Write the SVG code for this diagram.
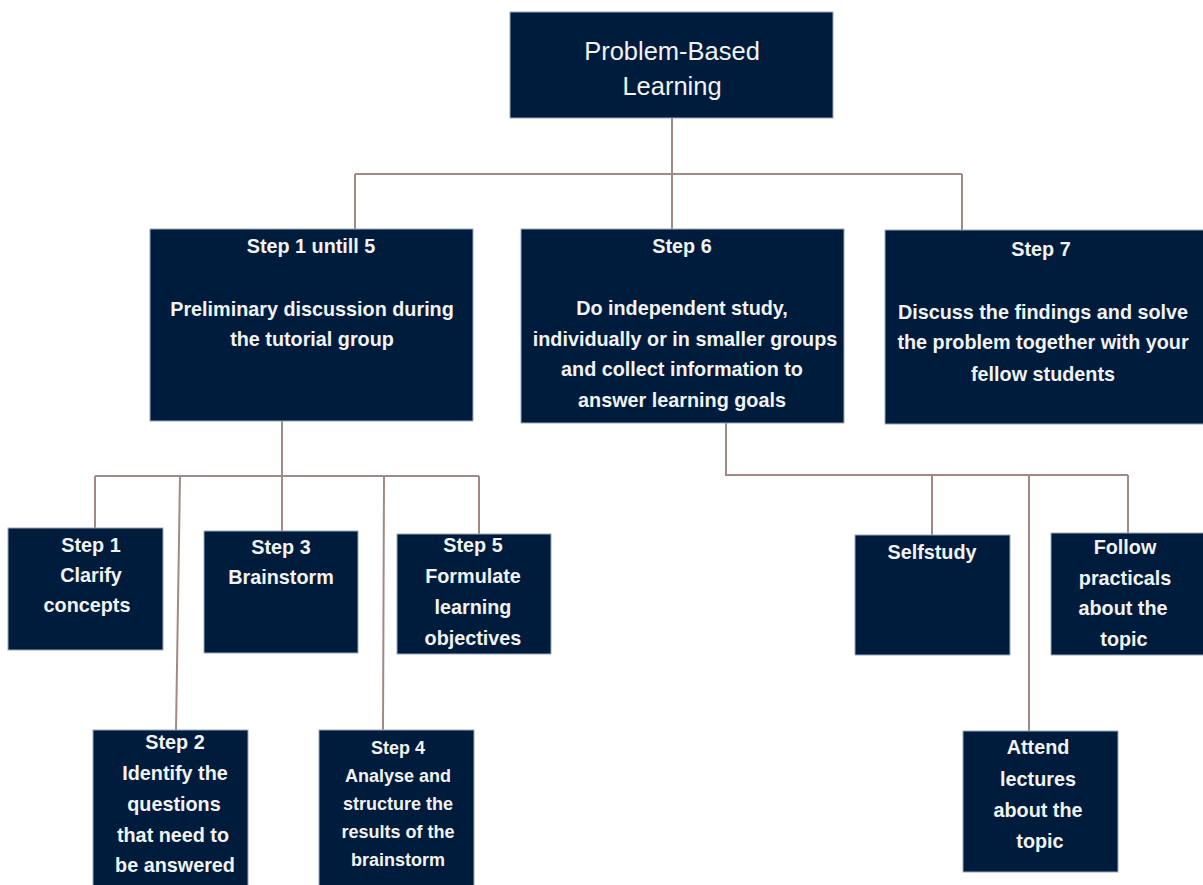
<svg xmlns="http://www.w3.org/2000/svg" width="1203" height="885" viewBox="0 0 1203 885">
<style>
.box{fill:#001c3d;stroke:#9aa8ba;stroke-width:1}
.t{fill:#f2f2f2;font-family:"Liberation Sans",Arial,sans-serif;font-weight:bold;font-size:19.8px;text-anchor:middle}
.s{font-size:18px}
.title{fill:#f2f2f2;font-family:"Liberation Sans",Arial,sans-serif;font-size:25.5px;text-anchor:middle}
.c{fill:none;stroke:#a08a86;stroke-width:2}
</style>
<rect width="1203" height="885" fill="#ffffff"/>
<g id="connectors">
<path class="c" d="M672 118V230M355 174H962M355 174V229M962 174V230"/>
<path class="c" d="M282 421V476M95 476H479M95 476V528M180 476L176 730M282 476V531M384 476L383 730M479 476V534"/>
<path class="c" d="M726 423V475H1128M932 475V535M1029 475V731M1128 475V533"/>
</g>
<g id="n-pbl"><rect class="box" x="510" y="12" width="323" height="106"/>
<text class="title" x="672" y="60">Problem-Based</text><text class="title" x="672" y="95">Learning</text></g>
<g id="n-step15"><rect class="box" x="150" y="229" width="323" height="192"/>
<text class="t" x="311" y="253">Step 1 untill 5</text>
<text class="t" x="312" y="316">Preliminary discussion during</text>
<text class="t" x="312" y="346">the tutorial group</text></g>
<g id="n-step6"><rect class="box" x="521" y="229" width="323" height="194"/>
<text class="t" x="682" y="253">Step 6</text>
<text class="t" x="682" y="315">Do independent study,</text>
<text class="t" x="685" y="346">individually or in smaller groups</text>
<text class="t" x="682" y="376">and collect information to</text>
<text class="t" x="682" y="407">answer learning goals</text></g>
<g id="n-step7"><rect class="box" x="885" y="230" width="320" height="194"/>
<text class="t" x="1041" y="256">Step 7</text>
<text class="t" x="1043" y="319">Discuss the findings and solve</text>
<text class="t" x="1043" y="349">the problem together with your</text>
<text class="t" x="1043" y="381">fellow students</text></g>
<g id="n-step1"><rect class="box" x="8" y="528" width="155" height="122"/>
<text class="t" x="91" y="552">Step 1</text><text class="t" x="91" y="582">Clarify</text><text class="t" x="87" y="612">concepts</text></g>
<g id="n-step3"><rect class="box" x="204" y="531" width="154" height="122"/>
<text class="t" x="281" y="554">Step 3</text><text class="t" x="281" y="584">Brainstorm</text></g>
<g id="n-step5"><rect class="box" x="397" y="534" width="154" height="120"/>
<text class="t" x="473" y="552">Step 5</text><text class="t" x="473" y="583">Formulate</text><text class="t" x="473" y="614">learning</text><text class="t" x="473" y="645">objectives</text></g>
<g id="n-step2"><rect class="box" x="93" y="730" width="155" height="160"/>
<text class="t" x="175" y="749">Step 2</text><text class="t" x="175" y="780">Identify the</text><text class="t" x="174" y="811">questions</text><text class="t" x="173" y="842">that need to</text><text class="t" x="175" y="872">be answered</text></g>
<g id="n-step4"><rect class="box" x="319" y="730" width="155" height="160"/>
<text class="t s" x="398" y="754">Step 4</text><text class="t s" x="398" y="782">Analyse and</text><text class="t s" x="398" y="810">structure the</text><text class="t s" x="398" y="838">results of the</text><text class="t s" x="398" y="866">brainstorm</text></g>
<g id="n-self"><rect class="box" x="855" y="535" width="155" height="120"/>
<text class="t" x="932" y="559">Selfstudy</text></g>
<g id="n-follow"><rect class="box" x="1051" y="533" width="155" height="122"/>
<text class="t" x="1125" y="554">Follow</text><text class="t" x="1125" y="585">practicals</text><text class="t" x="1123" y="615">about the</text><text class="t" x="1124" y="646">topic</text></g>
<g id="n-attend"><rect class="box" x="963" y="731" width="155" height="141"/>
<text class="t" x="1038" y="754">Attend</text><text class="t" x="1038" y="786">lectures</text><text class="t" x="1038" y="817">about the</text><text class="t" x="1040" y="848">topic</text></g>
</svg>
